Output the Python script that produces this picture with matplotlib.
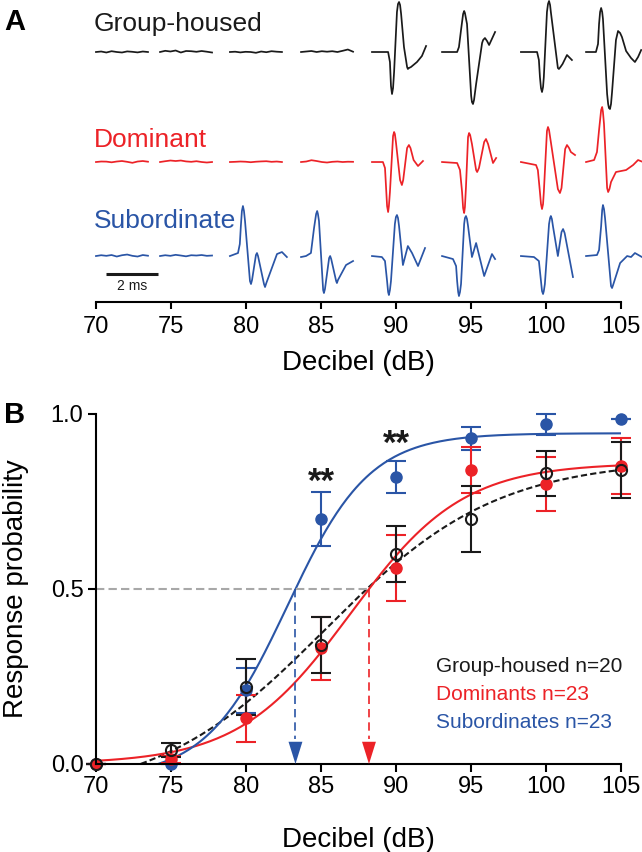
import numpy as np
import matplotlib
matplotlib.use('Agg')
import matplotlib.pyplot as plt

plt.rcParams['font.family'] = ['Liberation Sans', 'DejaVu Sans']

BLACK = '#1a1a1a'
RED = '#ec2227'
BLUE = '#2a55a6'

# ---------------- panel B: response probability ----------------
db = [70, 75, 80, 85, 90, 95, 100, 105]

gh_mean = [0.0, 0.04, 0.22, 0.34, 0.60, 0.70, 0.83, 0.84]
gh_sem = [0.0, 0.02, 0.08, 0.08, 0.08, 0.095, 0.065, 0.08]
dom_mean = [0.0, 0.014, 0.13, 0.33, 0.56, 0.84, 0.80, 0.85]
dom_sem = [0.0, 0.01, 0.068, 0.09, 0.093, 0.066, 0.077, 0.08]
sub_mean = [0.0, 0.0, 0.21, 0.70, 0.82, 0.93, 0.97, 0.985]
sub_sem = [0.0, 0.0, 0.064, 0.077, 0.047, 0.034, 0.03, 0.0]

# sigmoid fits: bottom, top, mid, slope
gh_fit = (-0.10, 0.87, 85.3, 5.7)
dom_fit = (0.0, 0.86, 86.97, 3.74)
sub_fit = (-0.04, 0.945, 82.77, 2.73)

star_db = [85, 90]
star_p = [0.777, 0.886]

legend_labels = ['Group-housed n=20', 'Dominants n=23', 'Subordinates n=23']

# ---------------- panel A: example traces ----------------
# time (ms) and amplitude (a.u.) of each averaged response
NOISE_T = [0, 0.2, 0.4, 0.6, 0.8, 1.0, 1.2, 1.4, 1.6, 1.8, 2.0]

gh_traces = {
    70: (NOISE_T, [0, 0.5, -0.5, 0.8, 0, -0.5, 0.6, 0.2, -0.4, 0.5, 0]),
    75: (NOISE_T, [0, 1.2, 0.5, 1.5, -0.5, 1.0, 0.8, 0.2, 1.0, 0.3, -0.5]),
    80: (NOISE_T, [0, 0.3, -0.4, 0.2, 0.0, -0.8, 0.5, -0.2, 0.8, 0.3, 0]),
    85: (NOISE_T, [0, 0.5, 1.0, 0, 0.8, 0.3, 0.8, 0, 1.2, 2.5, 0.3]),
    90: ([0, 0.62, 0.69, 0.73, 0.77, 0.81, 0.85, 0.96, 1.0, 1.04, 1.08, 1.12, 1.23,
          1.35, 1.38, 1.42, 1.5, 1.73, 1.92, 2.08],
         [0, 0, -10, -34, -42, -36, -20, 40, 48, 50, 47, 38, 5,
          -15, -17, -16, -15, -10, -4, 6]),
    95: ([0, 0.58, 0.65, 0.73, 0.81, 0.85, 0.88, 0.96, 1.12, 1.15, 1.19, 1.23, 1.31,
          1.54, 1.58, 1.65, 1.73, 1.81, 2.04],
         [0, 0, 5, 22, 38, 41, 39, 28, -44, -50, -52, -48, -32,
          9, 12, 14, 11, 7, 20]),
    100: ([0, 0.62, 0.69, 0.73, 0.77, 0.81, 0.85, 0.88, 1.0, 1.04, 1.08, 1.12, 1.15,
           1.42, 1.46, 1.52, 1.6, 1.77, 1.96],
          [0, 0, -8, -25, -36, -40, -35, -25, 40, 48, 51, 47, 40,
           -16, -17, -15, -12, -3, -8]),
    105: ([0, 0.38, 0.46, 0.5, 0.54, 0.58, 0.62, 0.65, 0.81, 0.85, 0.88, 0.92, 0.96,
           1.0, 1.15, 1.23, 1.31, 1.38, 1.54, 1.73, 1.88, 2.0, 2.12],
          [0, 0, 8, 28, 40, 44, 40, 33, -42, -52, -56, -57, -52,
           -40, 12, 21, 19, 15, 1, -6, -10, -5, 2]),
}

dom_traces = {
    70: (NOISE_T, [0, 0.5, 0.4, -0.3, 0.5, 1.0, 0.2, -0.8, 0.5, 1.0, 0.3]),
    75: (NOISE_T, [0, 0.8, 1.5, 1.0, 1.5, 0.6, 0.2, 0.8, 0, -0.5, 0]),
    80: (NOISE_T, [0, 0.2, 0.5, 0.3, -0.2, 0.3, 0.6, 0.8, 0.2, 0.5, 0]),
    85: (NOISE_T, [0, 0.5, 1.8, 1.0, 0, -0.5, 0.2, 0.5, 0, 0.3, 0.2]),
    90: ([0, 0.42, 0.5, 0.54, 0.58, 0.62, 0.65, 0.69, 0.81, 0.85, 0.88, 0.92, 1.08,
          1.15, 1.2, 1.35, 1.42, 1.48, 1.6, 1.77, 1.96],
         [0, 0, -6, -25, -44, -50, -44, -30, 26, 30, 28, 20, -18,
          -23, -18, 14, 17, 14, 2, -4, 1]),
    95: ([0, 0.58, 0.69, 0.77, 0.81, 0.85, 0.88, 0.92, 1.0, 1.04, 1.08, 1.15, 1.31,
          1.35, 1.42, 1.62, 1.69, 1.77, 1.96, 2.08],
         [0, -1, -8, -30, -46, -51, -45, -25, 25, 29, 27, 18, -8,
          -10, -6, 20, 23, 18, -1, 4]),
    100: ([0, 0.58, 0.65, 0.73, 0.77, 0.81, 0.85, 0.88, 1.0, 1.04, 1.08, 1.15, 1.42,
           1.5, 1.56, 1.7, 1.77, 1.85, 1.92, 2.08],
          [0, -3, -8, -30, -42, -47, -42, -30, 31, 35, 32, 20, -27,
           -31, -26, 13, 17, 14, 10, 7]),
    105: ([0, 0.31, 0.42, 0.5, 0.58, 0.62, 0.65, 0.69, 0.81, 0.85, 0.9, 0.96, 1.15,
           1.54, 1.81, 2.0, 2.19],
          [0, 2, 10, 32, 52, 55, 50, 38, -26, -30, -27, -20, -10,
           -8, -3, 2, 0]),
}

sub_traces = {
    70: (NOISE_T, [0, 0.8, 0.2, 1.0, -0.5, 0.8, 1.5, 0.2, -0.5, 1.0, 0.3]),
    75: (NOISE_T, [0, 0.8, 0.2, 1.2, 0.5, -0.3, 0.8, 0.5, 1.0, 0.2, 0.5]),
    80: ([0, 0.31, 0.38, 0.42, 0.46, 0.5, 0.54, 0.58, 0.77, 0.81, 0.85, 1.0, 1.04,
          1.08, 1.31, 1.35, 1.4, 1.81, 2.0, 2.19],
         [0, 3, 12, 30, 45, 50, 45, 35, -25, -28, -24, 1, 3,
          0, -28, -31, -27, 2, 4, -1]),
    85: ([0, 0.19, 0.38, 0.5, 0.58, 0.62, 0.65, 0.69, 0.85, 0.88, 0.92, 1.08, 1.12,
          1.16, 1.35, 1.38, 1.42, 1.73, 2.0],
         [-1, 0, 3, 28, 42, 45, 42, 35, -34, -37, -33, -2, 0,
          -3, -25, -27, -24, -9, -5]),
    90: ([0, 0.38, 0.5, 0.58, 0.62, 0.65, 0.69, 0.73, 0.88, 0.92, 0.96, 1.0, 1.04,
          1.19, 1.38, 1.54, 1.77, 2.04],
         [0, -1, -5, -25, -36, -39, -34, -25, 32, 39, 41, 38, 30,
          -9, 10, 3, -10, 8]),
    95: ([0, 0.42, 0.54, 0.58, 0.62, 0.65, 0.69, 0.73, 0.85, 0.88, 0.92, 0.96, 1.0,
          1.15, 1.31, 1.62, 1.92, 2.04],
         [0, -3, -10, -25, -36, -40, -36, -28, 32, 38, 40, 37, 30,
          -1, 13, -20, 2, -3]),
    100: ([0, 0.5, 0.69, 0.77, 0.81, 0.85, 0.88, 0.92, 1.08, 1.12, 1.15, 1.19, 1.23,
           1.42, 1.56, 1.62, 1.68, 2.0],
          [0, -1, -5, -25, -35, -38, -35, -28, 32, 38, 40, 37, 30,
           0, 24, 27, 23, -21]),
    105: ([0, 0.42, 0.5, 0.58, 0.62, 0.65, 0.69, 0.73, 0.96, 1.0, 1.04, 1.31, 1.58,
           1.73, 1.88, 2.15],
          [0, 1, 6, 30, 46, 51, 47, 38, -30, -32, -29, -7, 0,
           -1, 3, -1]),
}

# layout of panel A (axis units: dB horizontally, pixels vertically)
trace_start = [70, 74.27, 78.93, 83.67, 88.4, 93.07, 98.33, 102.67]
MS_TO_DB = 26 / 15.0
row_baseline = {'gh': 250, 'dom': 140, 'sub': 46}


def sigmoid(x, bottom, top, mid, slope):
    return bottom + (top - bottom) / (1 + np.exp((mid - x) / slope))


def threshold(bottom, top, mid, slope, level=0.5):
    return mid - slope * np.log((top - bottom) / (level - bottom) - 1)


fig = plt.figure(figsize=(6.42, 8.52), dpi=100)

# ---------------- panel A ----------------
axA = fig.add_axes([0.1495, 0.6455, 0.8178, 0.3545])
axA.set_xlim(70, 105)
axA.set_ylim(0, 302)
for side in ['top', 'right', 'left']:
    axA.spines[side].set_visible(False)
axA.spines['bottom'].set_linewidth(1.5)
axA.set_yticks([])
axA.set_xticks(db)
axA.tick_params(axis='x', length=5, width=1.5, labelsize=17, pad=5)
axA.set_xlabel('Decibel (dB)', fontsize=20)
axA.xaxis.set_label_coords(0.5, -0.16)

for key, traces, color in [('gh', gh_traces, BLACK), ('dom', dom_traces, RED),
                           ('sub', sub_traces, BLUE)]:
    base = row_baseline[key]
    for x0, level in zip(trace_start, db):
        t, a = traces[level]
        xs = x0 + np.array(t) * MS_TO_DB
        ys = base + np.array(a)
        axA.plot(xs, ys, color=color, lw=1.25, clip_on=False,
                 solid_joinstyle='round')

axA.text(69.87, 271, 'Group-housed', fontsize=19, color=BLACK, va='baseline')
axA.text(69.87, 155, 'Dominant', fontsize=19, color=RED, va='baseline')
axA.text(69.87, 74, 'Subordinate', fontsize=19, color=BLUE, va='baseline')

bar_x0 = 70.67
axA.plot([bar_x0, bar_x0 + 2 * MS_TO_DB], [28, 28], color=BLACK, lw=2.2,
         solid_capstyle='butt')
axA.text(bar_x0 + MS_TO_DB, 16, '2 ms', fontsize=10, color=BLACK,
         ha='center', va='center')

# ---------------- panel B ----------------
axB = fig.add_axes([0.1495, 0.1033, 0.8178, 0.4108])
axB.set_xlim(70, 105)
axB.set_ylim(0, 1.0)
for side in ['top', 'right']:
    axB.spines[side].set_visible(False)
for side in ['left', 'bottom']:
    axB.spines[side].set_linewidth(1.5)
axB.set_xticks(db)
axB.set_yticks([0.0, 0.5, 1.0])
axB.set_yticklabels(['0.0', '0.5', '1.0'])
axB.tick_params(length=6, width=1.5, labelsize=17, pad=3)
axB.set_xlabel('Decibel (dB)', fontsize=20)
axB.xaxis.set_label_coords(0.5, -0.18)
axB.set_ylabel('Response probability', fontsize=20)
axB.yaxis.set_label_coords(-0.128, 0.5)

xfit = np.linspace(70, 105, 300)
axB.plot(xfit, sigmoid(xfit, *gh_fit), color=BLACK, lw=1.5, dashes=(3, 1.5))
axB.plot(xfit, sigmoid(xfit, *dom_fit), color=RED, lw=1.5)
axB.plot(xfit, sigmoid(xfit, *sub_fit), color=BLUE, lw=1.5)

# thresholds at 50 % response
dom_th = threshold(*dom_fit)
sub_th = threshold(*sub_fit)
axB.plot([70, dom_th], [0.5, 0.5], color='#a8a8a8', lw=1.5, dashes=(4, 2))
for th, color in [(sub_th, BLUE), (dom_th, RED)]:
    axB.plot([th, th], [0.5, 0.07], color=color, lw=1.2, dashes=(5, 3))
    axB.annotate('', xy=(th, 0), xytext=(th, 0.07),
                 arrowprops=dict(arrowstyle='-|>,head_length=1.6,head_width=0.5',
                                 color=color, lw=0, shrinkA=0, shrinkB=0))

for mean, sem, color in [(sub_mean, sub_sem, BLUE), (dom_mean, dom_sem, RED),
                         (gh_mean, gh_sem, BLACK)]:
    axB.errorbar(db, mean, yerr=sem, fmt='none', ecolor=color, elinewidth=1.5,
                 capsize=7, capthick=1.5, clip_on=False)

axB.plot(db, sub_mean, 'o', color=BLUE, ms=8, clip_on=False)
axB.plot(db, dom_mean, 'o', color=RED, ms=8, clip_on=False)
axB.plot(db, gh_mean, 'o', mfc='none', mec=BLACK, mew=1.5, ms=8, clip_on=False)

for x, y in zip(star_db, star_p):
    axB.text(x, y, '**', fontsize=25, fontweight='bold', ha='center',
             va='baseline', color=BLACK)

for label, color, y in zip(legend_labels, [BLACK, RED, BLUE], [0.263, 0.183, 0.103]):
    axB.text(92.67, y, label, fontsize=15, color=color, va='baseline')

fig.text(0.006, 1 - 30 / 852, 'A', fontsize=21, fontweight='bold', va='baseline')
fig.text(0.006, 1 - 423 / 852, 'B', fontsize=21, fontweight='bold', va='baseline')

fig.savefig('out.png', dpi=100)
